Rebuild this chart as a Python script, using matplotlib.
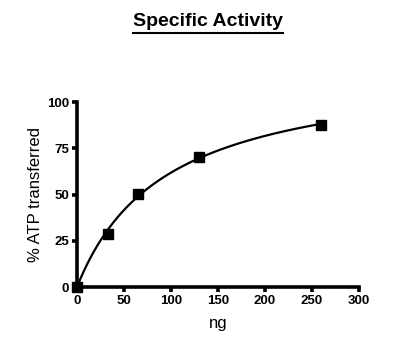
import numpy as np
import matplotlib
matplotlib.use("Agg")
import matplotlib.pyplot as plt
from matplotlib.lines import Line2D

plt.rcParams['font.family'] = ['Liberation Sans', 'DejaVu Sans']

# data
ng = [0, 32.5, 65, 130, 260]
atp = [0, 28.5, 50.5, 70.5, 87.5]
xticks = [0, 50, 100, 150, 200, 250, 300]
yticks = [0, 25, 50, 75, 100]

# one site hyperbola fit  y = Bmax*x/(Kd+x)
x = np.array(ng, dtype=float)
y = np.array(atp, dtype=float)
best = None
for kd in np.linspace(1, 500, 5000):
    g = x / (kd + x)
    bmax = (g @ y) / (g @ g)
    err = ((bmax * g - y) ** 2).sum()
    if best is None or err < best[0]:
        best = (err, kd, bmax)
_, kd, bmax = best
xc = np.linspace(0, max(ng), 300)
yc = bmax * xc / (kd + xc)

fig = plt.figure(figsize=(4.07, 3.40), dpi=100)
ax = fig.add_axes([77/407, 1 - 287/340, 282/407, 185/340])

ax.plot(xc, yc, color='black', lw=1.6, clip_on=False)
ax.plot(ng, atp, 's', color='black', ms=6.5, clip_on=False, zorder=5)

ax.set_xlim(0, 300)
ax.set_ylim(0, 100)
ax.set_xticks(xticks)
ax.set_yticks(yticks)
for s in ['top', 'right']:
    ax.spines[s].set_visible(False)
for s in ['left', 'bottom']:
    ax.spines[s].set_linewidth(2.6)
ax.tick_params(direction='out', length=3.5, width=2.6, labelsize=9.5, pad=2)
for lab in ax.get_xticklabels() + ax.get_yticklabels():
    lab.set_fontweight('bold')

ax.set_xlabel('ng', fontsize=12, labelpad=7)
ax.set_ylabel('% ATP transferred', fontsize=12, labelpad=3)

t = fig.text(208/407, 1 - 22/340, 'Specific Activity', fontsize=14,
             fontweight='bold', ha='center', va='center')
fig.canvas.draw()
bb = t.get_window_extent().transformed(fig.transFigure.inverted())
uy = 1 - 32.5/340
fig.add_artist(Line2D([bb.x0, bb.x1], [uy, uy], color='black', lw=1.5,
                      transform=fig.transFigure))

fig.savefig('out.png', dpi=100)
